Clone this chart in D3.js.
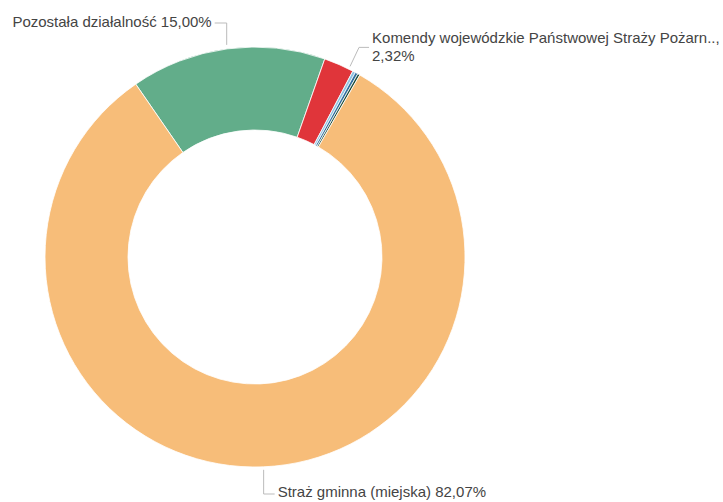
<!DOCTYPE html>
<html>
<head>
<meta charset="utf-8">
<script src="https://cdn.jsdelivr.net/npm/d3@7"></script>
<style>
  body { margin: 0; background: #fff; }
  text { font-family: "Liberation Sans", Arial, sans-serif; }
</style>
</head>
<body>
<div id="chart"></div>
<script>
// slice data, in drawing order (clockwise)
const categories = ["Pozostała działalność", "Komendy wojewódzkie Państwowej Straży Pożarnej",
    "Inne jednostki 1", "Inne jednostki 2", "Inne jednostki 3", "Straż gminna (miejska)"];
const shares = [15.00, 2.32, 0.22, 0.21, 0.18, 82.07];
const colors = ["#62ad8a", "#e0353a", "#8fc3e2", "#2f6f9f", "#1f4e3c", "#f7bd79"];
const labelText = [
    ["Pozostała działalność 15,00%"],
    ["Komendy wojewódzkie Państwowej Straży Pożarn..,", "2,32%"],
    null, null, null,
    ["Straż gminna (miejska) 82,07%"]
];

const width = 723, height = 502;
const cx = 255, cy = 257, outerR = 210, innerR = 127;
const startAngle = -34.6 * Math.PI / 180;
const fontSize = 15;

const svg = d3.select("#chart").append("svg")
    .attr("width", width)
    .attr("height", height);

const g = svg.append("g").attr("transform", `translate(${cx},${cy})`);

const pie = d3.pie()
    .value(d => d)
    .sort(null)
    .startAngle(startAngle)
    .endAngle(startAngle + 2 * Math.PI);

const arcs = pie(shares);

const arc = d3.arc().innerRadius(innerR).outerRadius(outerR);

g.selectAll("path.slice")
    .data(arcs)
    .enter().append("path")
    .attr("class", "slice")
    .attr("d", arc)
    .attr("fill", (d, i) => colors[i])
    .attr("stroke", "#fff")
    .attr("stroke-width", 0.8);

// point on the outer rim at a given angle
const rim = (a, r) => [Math.sin(a) * r, -Math.cos(a) * r];

const lineColor = "#bbb";
const textColor = "#444";

// green slice label: up and to the left
{
    const d = arcs[0];
    const a = (d.startAngle + d.endAngle) / 2;
    const p = rim(a, outerR + 4);
    const top = -outerR - 24;
    g.append("polyline")
        .attr("points", [[p[0], p[1]], [p[0], top], [p[0] - 12, top]].join(" "))
        .attr("fill", "none").attr("stroke", lineColor).attr("stroke-width", 1);
    g.append("text")
        .attr("x", p[0] - 15).attr("y", top - 1)
        .attr("dy", "0.35em")
        .attr("text-anchor", "end")
        .attr("font-size", fontSize)
        .attr("fill", textColor)
        .text(labelText[0][0]);
}

// red slice label: two lines to the right
{
    const d = arcs[1];
    const a = d.startAngle + (d.endAngle - d.startAngle) * 0.85;
    const p = rim(a, outerR + 3);
    const ey = p[1] - 19;
    const ex = p[0] + 9;
    g.append("polyline")
        .attr("points", [[p[0], p[1]], [ex, ey], [ex + 10, ey]].join(" "))
        .attr("fill", "none").attr("stroke", lineColor).attr("stroke-width", 1);
    labelText[1].forEach((s, i) => {
        g.append("text")
            .attr("x", ex + 13)
            .attr("y", ey - 10 + i * 18)
            .attr("dy", "0.35em")
            .attr("font-size", fontSize)
            .attr("fill", textColor)
            .text(s);
    });
}

// orange slice label: below, to the right
{
    const d = arcs[5];
    const a = (d.startAngle + d.endAngle) / 2;
    const p = rim(a, outerR + 3);
    const by = outerR + 27;
    g.append("polyline")
        .attr("points", [[p[0], p[1]], [p[0], by], [p[0] + 11, by]].join(" "))
        .attr("fill", "none").attr("stroke", lineColor).attr("stroke-width", 1);
    g.append("text")
        .attr("x", p[0] + 14).attr("y", by - 2)
        .attr("dy", "0.35em")
        .attr("font-size", fontSize)
        .attr("fill", textColor)
        .text(labelText[5][0]);
}
</script>
</body>
</html>
